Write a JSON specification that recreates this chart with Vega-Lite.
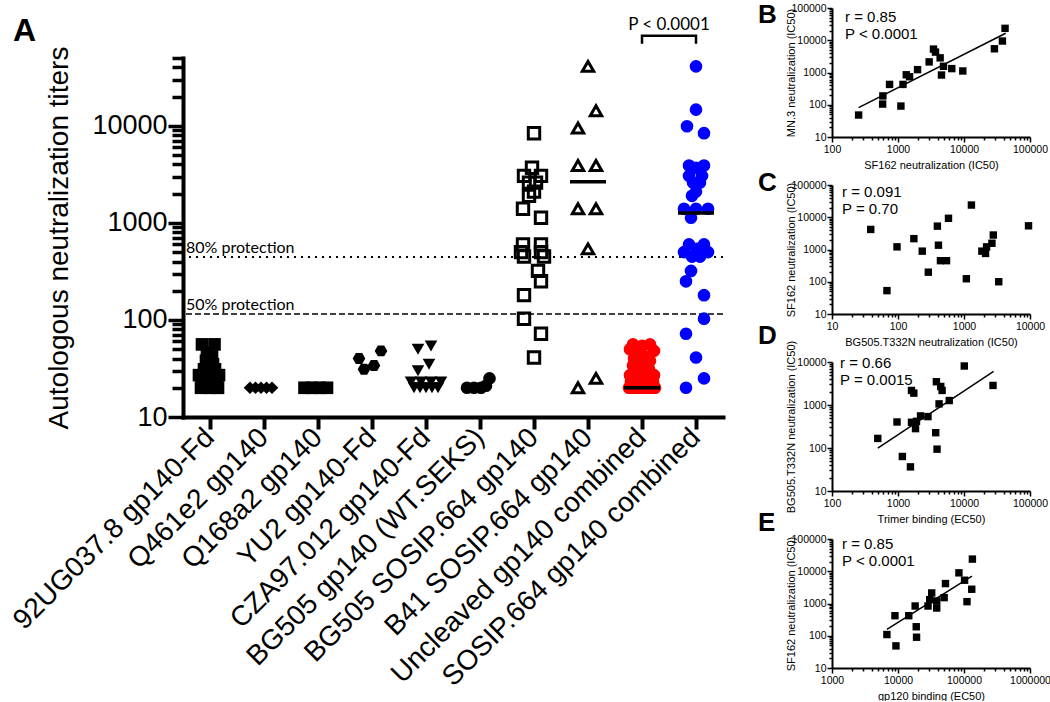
{
  "$schema": "https://vega.github.io/schema/vega-lite/v6.json",
  "background": "white",
  "padding": {"left": 8, "top": 2, "right": 0, "bottom": 0},
  "config": {
    "view": {"stroke": null},
    "font": "Liberation Sans",
    "axis": {"domainColor": "black", "tickColor": "black", "labelColor": "black", "titleColor": "black", "grid": false, "titleFontWeight": "normal", "labelFont": "Liberation Sans", "titleFont": "Liberation Sans"}
  },
  "datasets": {
    "main": [
      {"g": "92UG037.8 gp140-Fd", "v": 56, "s": -1.6}, {"g": "92UG037.8 gp140-Fd", "v": 56, "s": 0.9},
      {"g": "92UG037.8 gp140-Fd", "v": 46, "s": -0.6}, {"g": "92UG037.8 gp140-Fd", "v": 42, "s": 0.4},
      {"g": "92UG037.8 gp140-Fd", "v": 38, "s": -0.8}, {"g": "92UG037.8 gp140-Fd", "v": 35, "s": 0.6},
      {"g": "92UG037.8 gp140-Fd", "v": 31, "s": -1.2}, {"g": "92UG037.8 gp140-Fd", "v": 31, "s": 1.0},
      {"g": "92UG037.8 gp140-Fd", "v": 27, "s": -2.2}, {"g": "92UG037.8 gp140-Fd", "v": 27, "s": 1.8},
      {"g": "92UG037.8 gp140-Fd", "v": 25, "s": 0}, {"g": "92UG037.8 gp140-Fd", "v": 22, "s": -1.6},
      {"g": "92UG037.8 gp140-Fd", "v": 22, "s": 1.4}, {"g": "92UG037.8 gp140-Fd", "v": 20, "s": -1.8},
      {"g": "92UG037.8 gp140-Fd", "v": 20, "s": 0}, {"g": "92UG037.8 gp140-Fd", "v": 20, "s": 1.6},
      {"g": "Q461e2 gp140", "v": 20, "s": -2.8}, {"g": "Q461e2 gp140", "v": 20, "s": -1.7},
      {"g": "Q461e2 gp140", "v": 20, "s": -0.6}, {"g": "Q461e2 gp140", "v": 20, "s": 0.5},
      {"g": "Q461e2 gp140", "v": 20, "s": 1.6},
      {"g": "Q168a2 gp140", "v": 20, "s": -2.7}, {"g": "Q168a2 gp140", "v": 20, "s": -1.2},
      {"g": "Q168a2 gp140", "v": 20, "s": 0.3}, {"g": "Q168a2 gp140", "v": 20, "s": 1.8},
      {"g": "YU2 gp140-Fd", "v": 40, "s": -2.6}, {"g": "YU2 gp140-Fd", "v": 48, "s": 1.8},
      {"g": "YU2 gp140-Fd", "v": 34, "s": 0.4}, {"g": "YU2 gp140-Fd", "v": 31, "s": -1.6},
      {"g": "CZA97.012 gp140-Fd", "v": 54, "s": 1.0}, {"g": "CZA97.012 gp140-Fd", "v": 50, "s": -1.6},
      {"g": "CZA97.012 gp140-Fd", "v": 35, "s": 0.6}, {"g": "CZA97.012 gp140-Fd", "v": 30, "s": -1.6},
      {"g": "CZA97.012 gp140-Fd", "v": 23, "s": -3.0}, {"g": "CZA97.012 gp140-Fd", "v": 23, "s": -1.0},
      {"g": "CZA97.012 gp140-Fd", "v": 23, "s": 1.0}, {"g": "CZA97.012 gp140-Fd", "v": 23, "s": 3.0},
      {"g": "CZA97.012 gp140-Fd", "v": 20, "s": -2.4}, {"g": "CZA97.012 gp140-Fd", "v": 20, "s": -1.2},
      {"g": "CZA97.012 gp140-Fd", "v": 20, "s": 0}, {"g": "CZA97.012 gp140-Fd", "v": 20, "s": 1.2},
      {"g": "CZA97.012 gp140-Fd", "v": 20, "s": 2.4},
      {"g": "BG505 gp140 (WT.SEKS)", "v": 20, "s": -2.6}, {"g": "BG505 gp140 (WT.SEKS)", "v": 20, "s": -1.2},
      {"g": "BG505 gp140 (WT.SEKS)", "v": 20, "s": 0.2}, {"g": "BG505 gp140 (WT.SEKS)", "v": 21, "s": 1.2},
      {"g": "BG505 gp140 (WT.SEKS)", "v": 25, "s": 1.9},
      {"g": "BG505 SOSIP.664 gp140", "v": 8400, "s": 0}, {"g": "BG505 SOSIP.664 gp140", "v": 3700, "s": -0.4},
      {"g": "BG505 SOSIP.664 gp140", "v": 3050, "s": -2}, {"g": "BG505 SOSIP.664 gp140", "v": 3050, "s": 1.4},
      {"g": "BG505 SOSIP.664 gp140", "v": 2600, "s": -1}, {"g": "BG505 SOSIP.664 gp140", "v": 2600, "s": 0.4},
      {"g": "BG505 SOSIP.664 gp140", "v": 2100, "s": 0}, {"g": "BG505 SOSIP.664 gp140", "v": 1900, "s": -1},
      {"g": "BG505 SOSIP.664 gp140", "v": 1400, "s": -2.2}, {"g": "BG505 SOSIP.664 gp140", "v": 1130, "s": 1.4},
      {"g": "BG505 SOSIP.664 gp140", "v": 600, "s": -2.2}, {"g": "BG505 SOSIP.664 gp140", "v": 600, "s": 1.4},
      {"g": "BG505 SOSIP.664 gp140", "v": 500, "s": -2.6}, {"g": "BG505 SOSIP.664 gp140", "v": 500, "s": 1.4},
      {"g": "BG505 SOSIP.664 gp140", "v": 450, "s": -2}, {"g": "BG505 SOSIP.664 gp140", "v": 450, "s": 2},
      {"g": "BG505 SOSIP.664 gp140", "v": 320, "s": 0.8}, {"g": "BG505 SOSIP.664 gp140", "v": 250, "s": 1.4},
      {"g": "BG505 SOSIP.664 gp140", "v": 180, "s": -2}, {"g": "BG505 SOSIP.664 gp140", "v": 103, "s": -2},
      {"g": "BG505 SOSIP.664 gp140", "v": 72, "s": 1.4}, {"g": "BG505 SOSIP.664 gp140", "v": 41, "s": 0},
      {"g": "B41 SOSIP.664 gp140", "v": 41000, "s": 0}, {"g": "B41 SOSIP.664 gp140", "v": 14300, "s": 1.6},
      {"g": "B41 SOSIP.664 gp140", "v": 9500, "s": -2}, {"g": "B41 SOSIP.664 gp140", "v": 3900, "s": -2},
      {"g": "B41 SOSIP.664 gp140", "v": 3900, "s": 1.6}, {"g": "B41 SOSIP.664 gp140", "v": 1400, "s": -2},
      {"g": "B41 SOSIP.664 gp140", "v": 1400, "s": 1.6}, {"g": "B41 SOSIP.664 gp140", "v": 540, "s": 0},
      {"g": "B41 SOSIP.664 gp140", "v": 25, "s": 1.6}, {"g": "B41 SOSIP.664 gp140", "v": 20, "s": -2},
      {"g": "Uncleaved gp140 combined", "v": 56, "s": -1.8}, {"g": "Uncleaved gp140 combined", "v": 56, "s": 1.6},
      {"g": "Uncleaved gp140 combined", "v": 54, "s": 0}, {"g": "Uncleaved gp140 combined", "v": 50, "s": -2.4},
      {"g": "Uncleaved gp140 combined", "v": 48, "s": 2.4}, {"g": "Uncleaved gp140 combined", "v": 46, "s": -0.8},
      {"g": "Uncleaved gp140 combined", "v": 42, "s": 0.8}, {"g": "Uncleaved gp140 combined", "v": 40, "s": -1.6},
      {"g": "Uncleaved gp140 combined", "v": 38, "s": 1.6}, {"g": "Uncleaved gp140 combined", "v": 35, "s": -0.6},
      {"g": "Uncleaved gp140 combined", "v": 35, "s": 1.2}, {"g": "Uncleaved gp140 combined", "v": 34, "s": -1.8},
      {"g": "Uncleaved gp140 combined", "v": 31, "s": 0}, {"g": "Uncleaved gp140 combined", "v": 31, "s": -1.4},
      {"g": "Uncleaved gp140 combined", "v": 31, "s": 1.4}, {"g": "Uncleaved gp140 combined", "v": 30, "s": 0.4},
      {"g": "Uncleaved gp140 combined", "v": 27, "s": -2.4}, {"g": "Uncleaved gp140 combined", "v": 27, "s": 2.4},
      {"g": "Uncleaved gp140 combined", "v": 25, "s": -1}, {"g": "Uncleaved gp140 combined", "v": 25, "s": 1},
      {"g": "Uncleaved gp140 combined", "v": 23, "s": -2.2}, {"g": "Uncleaved gp140 combined", "v": 23, "s": 2.2},
      {"g": "Uncleaved gp140 combined", "v": 23, "s": 0}, {"g": "Uncleaved gp140 combined", "v": 23, "s": -0.8},
      {"g": "Uncleaved gp140 combined", "v": 22, "s": 1.2}, {"g": "Uncleaved gp140 combined", "v": 22, "s": -1.8},
      {"g": "Uncleaved gp140 combined", "v": 21, "s": 0.6},
      {"g": "Uncleaved gp140 combined", "v": 20, "s": -2.6}, {"g": "Uncleaved gp140 combined", "v": 20, "s": -2.0},
      {"g": "Uncleaved gp140 combined", "v": 20, "s": -1.4}, {"g": "Uncleaved gp140 combined", "v": 20, "s": -0.8},
      {"g": "Uncleaved gp140 combined", "v": 20, "s": -0.2}, {"g": "Uncleaved gp140 combined", "v": 20, "s": 0.4},
      {"g": "Uncleaved gp140 combined", "v": 20, "s": 1.0}, {"g": "Uncleaved gp140 combined", "v": 20, "s": 1.6},
      {"g": "Uncleaved gp140 combined", "v": 20, "s": 2.2}, {"g": "Uncleaved gp140 combined", "v": 20, "s": 2.6},
      {"g": "Uncleaved gp140 combined", "v": 20, "s": -2.3}, {"g": "Uncleaved gp140 combined", "v": 20, "s": -1.7},
      {"g": "Uncleaved gp140 combined", "v": 20, "s": -1.1}, {"g": "Uncleaved gp140 combined", "v": 20, "s": -0.5},
      {"g": "Uncleaved gp140 combined", "v": 20, "s": 0.1}, {"g": "Uncleaved gp140 combined", "v": 20, "s": 0.7},
      {"g": "Uncleaved gp140 combined", "v": 20, "s": 1.3}, {"g": "Uncleaved gp140 combined", "v": 20, "s": 1.9},
      {"g": "Uncleaved gp140 combined", "v": 20, "s": 2.4}, {"g": "Uncleaved gp140 combined", "v": 20, "s": 0},
      {"g": "SOSIP.664 gp140 combined", "v": 41000, "s": 0}, {"g": "SOSIP.664 gp140 combined", "v": 14700, "s": 0},
      {"g": "SOSIP.664 gp140 combined", "v": 9900, "s": -1.8}, {"g": "SOSIP.664 gp140 combined", "v": 8400, "s": 1.6},
      {"g": "SOSIP.664 gp140 combined", "v": 3900, "s": -1.4}, {"g": "SOSIP.664 gp140 combined", "v": 3900, "s": 1.6},
      {"g": "SOSIP.664 gp140 combined", "v": 3700, "s": 0}, {"g": "SOSIP.664 gp140 combined", "v": 3050, "s": -1.4},
      {"g": "SOSIP.664 gp140 combined", "v": 3050, "s": 1.2}, {"g": "SOSIP.664 gp140 combined", "v": 2600, "s": -0.6},
      {"g": "SOSIP.664 gp140 combined", "v": 2600, "s": 0.8}, {"g": "SOSIP.664 gp140 combined", "v": 2100, "s": 0},
      {"g": "SOSIP.664 gp140 combined", "v": 1900, "s": -0.8}, {"g": "SOSIP.664 gp140 combined", "v": 1400, "s": -2.4},
      {"g": "SOSIP.664 gp140 combined", "v": 1400, "s": 2.4}, {"g": "SOSIP.664 gp140 combined", "v": 1400, "s": 0},
      {"g": "SOSIP.664 gp140 combined", "v": 1130, "s": -1}, {"g": "SOSIP.664 gp140 combined", "v": 600, "s": -1.4},
      {"g": "SOSIP.664 gp140 combined", "v": 600, "s": 1.6}, {"g": "SOSIP.664 gp140 combined", "v": 540, "s": 0.2},
      {"g": "SOSIP.664 gp140 combined", "v": 500, "s": -2.4}, {"g": "SOSIP.664 gp140 combined", "v": 500, "s": 2.4},
      {"g": "SOSIP.664 gp140 combined", "v": 450, "s": -0.8}, {"g": "SOSIP.664 gp140 combined", "v": 450, "s": 0.8},
      {"g": "SOSIP.664 gp140 combined", "v": 320, "s": -1}, {"g": "SOSIP.664 gp140 combined", "v": 250, "s": -2},
      {"g": "SOSIP.664 gp140 combined", "v": 180, "s": 1.6}, {"g": "SOSIP.664 gp140 combined", "v": 103, "s": 1.6},
      {"g": "SOSIP.664 gp140 combined", "v": 72, "s": -2}, {"g": "SOSIP.664 gp140 combined", "v": 41, "s": 0},
      {"g": "SOSIP.664 gp140 combined", "v": 25, "s": 1.6}, {"g": "SOSIP.664 gp140 combined", "v": 20, "s": -2}
    ],
    "med": [
      {"g": "B41 SOSIP.664 gp140", "v": 2650},
      {"g": "Uncleaved gp140 combined", "v": 20},
      {"g": "SOSIP.664 gp140 combined", "v": 1265}
    ],
    "refl": [
      {"g": "92UG037.8 gp140-Fd", "v": 446, "t": "80% protection", "k": "dot"},
      {"g": "92UG037.8 gp140-Fd", "v": 115, "t": "50% protection", "k": "dash"}
    ],
    "bracket": [
      {"g": "Uncleaved gp140 combined", "v": 70000, "o": 1},
      {"g": "Uncleaved gp140 combined", "v": 84700, "o": 2},
      {"g": "SOSIP.664 gp140 combined", "v": 84700, "o": 3},
      {"g": "SOSIP.664 gp140 combined", "v": 70000, "o": 4}
    ],
    "ptext": [{"g": "Uncleaved gp140 combined", "v": 98000, "t": "P < 0.0001"}],
    "B": [
      {"x": 253, "y": 48}, {"x": 585, "y": 105}, {"x": 590, "y": 188}, {"x": 745, "y": 427},
      {"x": 1107, "y": 91}, {"x": 1190, "y": 427}, {"x": 1334, "y": 850}, {"x": 1497, "y": 740},
      {"x": 1977, "y": 1227}, {"x": 2965, "y": 2134}, {"x": 3449, "y": 5320}, {"x": 3700, "y": 4290},
      {"x": 4350, "y": 2845}, {"x": 4560, "y": 835}, {"x": 4890, "y": 1560}, {"x": 6530, "y": 1320},
      {"x": 9590, "y": 1115}, {"x": 28900, "y": 5440}, {"x": 38200, "y": 9460}, {"x": 41900, "y": 23400}
    ],
    "Bfit": [{"x": 253, "y": 81}, {"x": 42800, "y": 16500}],
    "Btxt": [{"x": 100, "y": 100000, "t": "r = 0.85\nP < 0.0001"}],
    "C": [
      {"x": 38.6, "y": 4190}, {"x": 68, "y": 53}, {"x": 96.6, "y": 1208}, {"x": 174, "y": 2170},
      {"x": 233, "y": 889}, {"x": 288, "y": 198}, {"x": 395, "y": 5300}, {"x": 410, "y": 1360},
      {"x": 440, "y": 450}, {"x": 543, "y": 450}, {"x": 582, "y": 9300}, {"x": 1086, "y": 124},
      {"x": 1295, "y": 23900}, {"x": 1864, "y": 889}, {"x": 2120, "y": 755}, {"x": 2200, "y": 1208},
      {"x": 2650, "y": 1563}, {"x": 2780, "y": 2810}, {"x": 3360, "y": 100}, {"x": 9500, "y": 5430}
    ],
    "Ctxt": [{"x": 10, "y": 100000, "t": "r = 0.091\nP = 0.70"}],
    "D": [
      {"x": 494, "y": 167}, {"x": 966, "y": 403}, {"x": 1165, "y": 63.5}, {"x": 1544, "y": 36.4},
      {"x": 1600, "y": 2180}, {"x": 1600, "y": 396}, {"x": 1737, "y": 1888}, {"x": 1842, "y": 282},
      {"x": 1906, "y": 417}, {"x": 2197, "y": 557}, {"x": 2845, "y": 537}, {"x": 3725, "y": 227},
      {"x": 3816, "y": 3475}, {"x": 3905, "y": 94}, {"x": 4190, "y": 1062}, {"x": 4443, "y": 2700},
      {"x": 4660, "y": 2180}, {"x": 5970, "y": 1270}, {"x": 10100, "y": 8070}, {"x": 27500, "y": 2850}
    ],
    "Dfit": [{"x": 494, "y": 99.5}, {"x": 28100, "y": 6070}],
    "Dtxt": [{"x": 100, "y": 10000, "t": "r = 0.66\nP = 0.0015"}],
    "E": [
      {"x": 6790, "y": 109}, {"x": 8990, "y": 418}, {"x": 9310, "y": 48.5}, {"x": 14550, "y": 418},
      {"x": 18200, "y": 836}, {"x": 18900, "y": 190}, {"x": 19100, "y": 90}, {"x": 28500, "y": 836},
      {"x": 30200, "y": 1319}, {"x": 32400, "y": 2124}, {"x": 38600, "y": 1197}, {"x": 38600, "y": 725},
      {"x": 50000, "y": 1520}, {"x": 52400, "y": 4150}, {"x": 83800, "y": 8930}, {"x": 102000, "y": 5270},
      {"x": 111000, "y": 1140}, {"x": 131000, "y": 2770}, {"x": 134000, "y": 23800}
    ],
    "Efit": [{"x": 6790, "y": 157}, {"x": 132000, "y": 7030}],
    "Etxt": [{"x": 1000, "y": 100000, "t": "r = 0.85\nP < 0.0001"}]
  },
  "spacing": 34,
  "hconcat": [
    {
      "bounds": "flush",
      "spacing": 0,
      "vconcat": [
        {
          "width": 540, "height": 50,
          "title": {"text": "A", "anchor": "start", "frame": "group", "fontSize": 32, "fontWeight": "bold", "font": "Liberation Sans", "dx": -170, "dy": 40, "offset": 0, "color": "black"},
          "data": {"values": [{"a": 1}]}, "mark": {"type": "point", "opacity": 0}, "encoding": {}
        },
        {
          "width": 540,
          "height": 359,
          "encoding": {
            "x": {
              "field": "g", "type": "nominal",
              "sort": ["92UG037.8 gp140-Fd", "Q461e2 gp140", "Q168a2 gp140", "YU2 gp140-Fd", "CZA97.012 gp140-Fd", "BG505 gp140 (WT.SEKS)", "BG505 SOSIP.664 gp140", "B41 SOSIP.664 gp140", "Uncleaved gp140 combined", "SOSIP.664 gp140 combined"],
              "scale": {"domain": ["92UG037.8 gp140-Fd", "Q461e2 gp140", "Q168a2 gp140", "YU2 gp140-Fd", "CZA97.012 gp140-Fd", "BG505 gp140 (WT.SEKS)", "BG505 SOSIP.664 gp140", "B41 SOSIP.664 gp140", "Uncleaved gp140 combined", "SOSIP.664 gp140 combined"], "paddingInner": 0, "paddingOuter": 0},
              "axis": {"title": null, "labelAngle": -45, "labelAlign": "right", "labelBaseline": "middle", "labelFontSize": 28, "labelPadding": 4, "tickSize": 12, "tickWidth": 4, "domainWidth": 4, "labelLimit": 0, "labelOverlap": false, "labelBound": false, "domainCap": "square"}
            },
            "y": {
              "field": "v", "type": "quantitative",
              "scale": {"type": "log", "domain": [10, 50000], "nice": false},
              "axis": {
                "title": "Autologous neutralization titers",
                "titleFontSize": 28,
                "titleX": -110,
                "values": [10, 20, 30, 40, 50, 60, 70, 80, 90, 100, 200, 300, 400, 500, 600, 700, 800, 900, 1000, 2000, 3000, 4000, 5000, 6000, 7000, 8000, 9000, 10000, 20000, 30000, 40000, 50000],
                "labelExpr": "abs(log(datum.value)/LN10 - round(log(datum.value)/LN10)) < 0.001 ? format(datum.value, 'd') : ''",
                "labelFontSize": 27,
                "labelPadding": 1,
                "labelOverlap": false,
                "labelFlush": false,
                "tickSize": {"condition": {"test": "abs(log(datum.value)/LN10 - round(log(datum.value)/LN10)) < 0.001", "value": 15}, "value": 11},
                "tickWidth": 3.5,
                "domainWidth": 4,
                "domainCap": "square"
              }
            }
          },
          "layer": [
            {
              "data": {"name": "refl"},
              "transform": [{"filter": "datum.k === 'dot'"}],
              "mark": {"type": "rule", "color": "black", "strokeWidth": 2, "strokeDash": [2, 5]},
              "encoding": {"x": null, "y": {"field": "v", "type": "quantitative"}}
            },
            {
              "data": {"name": "refl"},
              "transform": [{"filter": "datum.k === 'dash'"}],
              "mark": {"type": "rule", "color": "black", "strokeWidth": 1.5, "strokeDash": [6, 3]},
              "encoding": {"x": null, "y": {"field": "v", "type": "quantitative"}}
            },
            {
              "data": {"name": "refl"},
              "mark": {"type": "text", "align": "left", "baseline": "alphabetic", "dx": -24, "dy": -4, "font": "Lato", "fontSize": 16, "color": "black"},
              "encoding": {"text": {"field": "t"}}
            },
            {
              "data": {"name": "main"},
              "transform": [{"filter": "datum.g !== 'BG505 SOSIP.664 gp140' && datum.g !== 'B41 SOSIP.664 gp140'"}],
              "mark": {"type": "point", "filled": true, "size": 160, "opacity": 1, "strokeWidth": 0},
              "encoding": {
                "xOffset": {"field": "s", "type": "quantitative", "scale": {"domain": [-6, 6], "range": [-3, 57]}},
                "shape": {"field": "g", "type": "nominal", "legend": null, "scale": {"domain": ["92UG037.8 gp140-Fd", "Q461e2 gp140", "Q168a2 gp140", "YU2 gp140-Fd", "CZA97.012 gp140-Fd", "BG505 gp140 (WT.SEKS)", "BG505 SOSIP.664 gp140", "B41 SOSIP.664 gp140", "Uncleaved gp140 combined", "SOSIP.664 gp140 combined"], "range": ["square", "diamond", "square", "M-1,0L-0.5,-0.866L0.5,-0.866L1,0L0.5,0.866L-0.5,0.866Z", "triangle-down", "circle", "square", "triangle-up", "circle", "circle"]}},
                "color": {"field": "g", "type": "nominal", "legend": null, "scale": {"domain": ["92UG037.8 gp140-Fd", "Q461e2 gp140", "Q168a2 gp140", "YU2 gp140-Fd", "CZA97.012 gp140-Fd", "BG505 gp140 (WT.SEKS)", "BG505 SOSIP.664 gp140", "B41 SOSIP.664 gp140", "Uncleaved gp140 combined", "SOSIP.664 gp140 combined"], "range": ["black", "black", "black", "black", "black", "black", "black", "black", "#ff0000", "#0000ff"]}}
              }
            },
            {
              "data": {"name": "main"},
              "transform": [{"filter": "datum.g === 'BG505 SOSIP.664 gp140' || datum.g === 'B41 SOSIP.664 gp140'"}],
              "mark": {"type": "point", "filled": false, "size": 130, "opacity": 1, "strokeWidth": 3},
              "encoding": {
                "xOffset": {"field": "s", "type": "quantitative"},
                "shape": {"field": "g", "type": "nominal", "legend": null},
                "color": {"field": "g", "type": "nominal", "legend": null}
              }
            },
            {
              "data": {"name": "med"},
              "mark": {"type": "tick", "color": "black", "size": 36, "thickness": 3.5, "opacity": 1},
              "encoding": {}
            },
            {
              "data": {"name": "bracket"},
              "mark": {"type": "line", "color": "black", "strokeWidth": 2.5, "clip": false},
              "encoding": {"order": {"field": "o", "type": "quantitative"}}
            },
            {
              "data": {"name": "ptext"},
              "mark": {"type": "text", "align": "center", "baseline": "alphabetic", "dx": 27, "font": "Lato", "fontSize": 17, "color": "black"},
              "encoding": {"text": {"field": "t"}}
            }
          ]
        }
      ]
    },
    {
      "bounds": "flush",
      "spacing": 48,
      "vconcat": [
        {
          "width": 198, "height": 129,
          "title": {"text": "B", "anchor": "start", "frame": "group", "fontSize": 26, "fontWeight": "bold", "dx": -74, "dy": 25, "offset": 0, "color": "black"},
          "encoding": {
            "x": {"field": "x", "type": "quantitative", "scale": {"type": "log", "domain": [100, 100000], "nice": false},
              "axis": {"title": "SF162 neutralization (IC50)", "titleFontSize": 11, "titleY": 22, "labelFontSize": 10.5, "labelPadding": 2, "tickWidth": 1.5, "domainWidth": 2, "labelOverlap": false, "labelFlush": false,
                "values": [100, 200, 300, 400, 500, 600, 700, 800, 900, 1000, 2000, 3000, 4000, 5000, 6000, 7000, 8000, 9000, 10000, 20000, 30000, 40000, 50000, 60000, 70000, 80000, 90000, 100000],
                "labelExpr": "abs(log(datum.value)/LN10 - round(log(datum.value)/LN10)) < 0.001 ? format(datum.value, 'd') : ''",
                "tickSize": {"condition": {"test": "abs(log(datum.value)/LN10 - round(log(datum.value)/LN10)) < 0.001", "value": 5}, "value": 3}}},
            "y": {"field": "y", "type": "quantitative", "scale": {"type": "log", "domain": [10, 100000], "nice": false},
              "axis": {"title": "MN.3 neutralization (IC50)", "titleFontSize": 11, "titleX": -36, "labelFontSize": 10.5, "labelPadding": 1, "tickWidth": 1.5, "domainWidth": 2, "labelOverlap": false, "labelFlush": false,
                "values": [10, 20, 30, 40, 50, 60, 70, 80, 90, 100, 200, 300, 400, 500, 600, 700, 800, 900, 1000, 2000, 3000, 4000, 5000, 6000, 7000, 8000, 9000, 10000, 20000, 30000, 40000, 50000, 60000, 70000, 80000, 90000, 100000],
                "labelExpr": "abs(log(datum.value)/LN10 - round(log(datum.value)/LN10)) < 0.001 ? format(datum.value, 'd') : ''",
                "tickSize": {"condition": {"test": "abs(log(datum.value)/LN10 - round(log(datum.value)/LN10)) < 0.001", "value": 5}, "value": 3}}}
          },
          "layer": [
            {"data": {"name": "B"}, "mark": {"type": "point", "shape": "square", "filled": true, "size": 55, "color": "black", "opacity": 1}},
            {"data": {"name": "Bfit"}, "mark": {"type": "line", "color": "black", "strokeWidth": 1.5}},
            {"data": {"name": "Btxt"}, "mark": {"type": "text", "align": "left", "baseline": "top", "dx": 13, "dy": 2, "fontSize": 15, "lineHeight": 17, "lineBreak": "\n", "color": "black"}, "encoding": {"text": {"field": "t"}}}
          ]
        },
        {
          "width": 198, "height": 129,
          "title": {"text": "C", "anchor": "start", "frame": "group", "fontSize": 26, "fontWeight": "bold", "dx": -74, "dy": 16, "offset": 0, "color": "black"},
          "encoding": {
            "x": {"field": "x", "type": "quantitative", "scale": {"type": "log", "domain": [10, 10000], "nice": false},
              "axis": {"title": "BG505.T332N neutralization (IC50)", "titleFontSize": 11, "titleY": 22, "labelFontSize": 10.5, "labelPadding": 2, "tickWidth": 1.5, "domainWidth": 2, "labelOverlap": false, "labelFlush": false,
                "values": [10, 20, 30, 40, 50, 60, 70, 80, 90, 100, 200, 300, 400, 500, 600, 700, 800, 900, 1000, 2000, 3000, 4000, 5000, 6000, 7000, 8000, 9000, 10000],
                "labelExpr": "abs(log(datum.value)/LN10 - round(log(datum.value)/LN10)) < 0.001 ? format(datum.value, 'd') : ''",
                "tickSize": {"condition": {"test": "abs(log(datum.value)/LN10 - round(log(datum.value)/LN10)) < 0.001", "value": 5}, "value": 3}}},
            "y": {"field": "y", "type": "quantitative", "scale": {"type": "log", "domain": [10, 100000], "nice": false},
              "axis": {"title": "SF162 neutralization (IC50)", "titleFontSize": 11, "titleX": -36, "labelFontSize": 10.5, "labelPadding": 1, "tickWidth": 1.5, "domainWidth": 2, "labelOverlap": false, "labelFlush": false,
                "values": [10, 20, 30, 40, 50, 60, 70, 80, 90, 100, 200, 300, 400, 500, 600, 700, 800, 900, 1000, 2000, 3000, 4000, 5000, 6000, 7000, 8000, 9000, 10000, 20000, 30000, 40000, 50000, 60000, 70000, 80000, 90000, 100000],
                "labelExpr": "abs(log(datum.value)/LN10 - round(log(datum.value)/LN10)) < 0.001 ? format(datum.value, 'd') : ''",
                "tickSize": {"condition": {"test": "abs(log(datum.value)/LN10 - round(log(datum.value)/LN10)) < 0.001", "value": 5}, "value": 3}}}
          },
          "layer": [
            {"data": {"name": "C"}, "mark": {"type": "point", "shape": "square", "filled": true, "size": 55, "color": "black", "opacity": 1}},
            {"data": {"name": "Ctxt"}, "mark": {"type": "text", "align": "left", "baseline": "top", "dx": 10, "dy": 0, "fontSize": 15, "lineHeight": 17, "lineBreak": "\n", "color": "black"}, "encoding": {"text": {"field": "t"}}}
          ]
        },
        {
          "width": 198, "height": 129,
          "title": {"text": "D", "anchor": "start", "frame": "group", "fontSize": 26, "fontWeight": "bold", "dx": -74, "dy": 9, "offset": 0, "color": "black"},
          "encoding": {
            "x": {"field": "x", "type": "quantitative", "scale": {"type": "log", "domain": [100, 100000], "nice": false},
              "axis": {"title": "Trimer binding (EC50)", "titleFontSize": 11, "titleY": 22, "labelFontSize": 10.5, "labelPadding": 2, "tickWidth": 1.5, "domainWidth": 2, "labelOverlap": false, "labelFlush": false,
                "values": [100, 200, 300, 400, 500, 600, 700, 800, 900, 1000, 2000, 3000, 4000, 5000, 6000, 7000, 8000, 9000, 10000, 20000, 30000, 40000, 50000, 60000, 70000, 80000, 90000, 100000],
                "labelExpr": "abs(log(datum.value)/LN10 - round(log(datum.value)/LN10)) < 0.001 ? format(datum.value, 'd') : ''",
                "tickSize": {"condition": {"test": "abs(log(datum.value)/LN10 - round(log(datum.value)/LN10)) < 0.001", "value": 5}, "value": 3}}},
            "y": {"field": "y", "type": "quantitative", "scale": {"type": "log", "domain": [10, 10000], "nice": false},
              "axis": {"title": "BG505.T332N neutralization (IC50)", "titleFontSize": 11, "titleX": -36, "labelFontSize": 10.5, "labelPadding": 1, "tickWidth": 1.5, "domainWidth": 2, "labelOverlap": false, "labelFlush": false,
                "values": [10, 20, 30, 40, 50, 60, 70, 80, 90, 100, 200, 300, 400, 500, 600, 700, 800, 900, 1000, 2000, 3000, 4000, 5000, 6000, 7000, 8000, 9000, 10000],
                "labelExpr": "abs(log(datum.value)/LN10 - round(log(datum.value)/LN10)) < 0.001 ? format(datum.value, 'd') : ''",
                "tickSize": {"condition": {"test": "abs(log(datum.value)/LN10 - round(log(datum.value)/LN10)) < 0.001", "value": 5}, "value": 3}}}
          },
          "layer": [
            {"data": {"name": "D"}, "mark": {"type": "point", "shape": "square", "filled": true, "size": 55, "color": "black", "opacity": 1}},
            {"data": {"name": "Dfit"}, "mark": {"type": "line", "color": "black", "strokeWidth": 1.5}},
            {"data": {"name": "Dtxt"}, "mark": {"type": "text", "align": "left", "baseline": "top", "dx": 8, "dy": -6, "fontSize": 15, "lineHeight": 17, "lineBreak": "\n", "color": "black"}, "encoding": {"text": {"field": "t"}}}
          ]
        },
        {
          "width": 198, "height": 129,
          "title": {"text": "E", "anchor": "start", "frame": "group", "fontSize": 26, "fontWeight": "bold", "dx": -74, "dy": 2, "offset": 0, "color": "black"},
          "encoding": {
            "x": {"field": "x", "type": "quantitative", "scale": {"type": "log", "domain": [1000, 1000000], "nice": false},
              "axis": {"title": "gp120 binding (EC50)", "titleFontSize": 11, "titleY": 22, "labelFontSize": 10.5, "labelPadding": 2, "tickWidth": 1.5, "domainWidth": 2, "labelOverlap": false, "labelFlush": false,
                "values": [1000, 2000, 3000, 4000, 5000, 6000, 7000, 8000, 9000, 10000, 20000, 30000, 40000, 50000, 60000, 70000, 80000, 90000, 100000, 200000, 300000, 400000, 500000, 600000, 700000, 800000, 900000, 1000000],
                "labelExpr": "abs(log(datum.value)/LN10 - round(log(datum.value)/LN10)) < 0.001 ? format(datum.value, 'd') : ''",
                "tickSize": {"condition": {"test": "abs(log(datum.value)/LN10 - round(log(datum.value)/LN10)) < 0.001", "value": 5}, "value": 3}}},
            "y": {"field": "y", "type": "quantitative", "scale": {"type": "log", "domain": [10, 100000], "nice": false},
              "axis": {"title": "SF162 neutralization (IC50)", "titleFontSize": 11, "titleX": -36, "labelFontSize": 10.5, "labelPadding": 1, "tickWidth": 1.5, "domainWidth": 2, "labelOverlap": false, "labelFlush": false,
                "values": [10, 20, 30, 40, 50, 60, 70, 80, 90, 100, 200, 300, 400, 500, 600, 700, 800, 900, 1000, 2000, 3000, 4000, 5000, 6000, 7000, 8000, 9000, 10000, 20000, 30000, 40000, 50000, 60000, 70000, 80000, 90000, 100000],
                "labelExpr": "abs(log(datum.value)/LN10 - round(log(datum.value)/LN10)) < 0.001 ? format(datum.value, 'd') : ''",
                "tickSize": {"condition": {"test": "abs(log(datum.value)/LN10 - round(log(datum.value)/LN10)) < 0.001", "value": 5}, "value": 3}}}
          },
          "layer": [
            {"data": {"name": "E"}, "mark": {"type": "point", "shape": "square", "filled": true, "size": 55, "color": "black", "opacity": 1}},
            {"data": {"name": "Efit"}, "mark": {"type": "line", "color": "black", "strokeWidth": 1.5}},
            {"data": {"name": "Etxt"}, "mark": {"type": "text", "align": "left", "baseline": "top", "dx": 10, "dy": -2, "fontSize": 15, "lineHeight": 17, "lineBreak": "\n", "color": "black"}, "encoding": {"text": {"field": "t"}}}
          ]
        }
      ]
    }
  ]
}
